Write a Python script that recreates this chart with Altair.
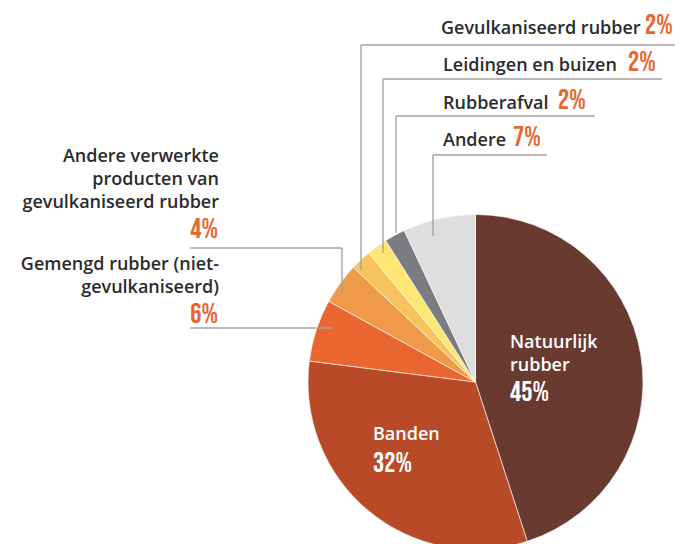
import altair as alt
import pandas as pd

# ---- data ----
categories = ["Natuurlijk rubber", "Banden", "Gemengd rubber (niet-gevulkaniseerd)",
              "Andere verwerkte producten van gevulkaniseerd rubber",
              "Gevulkaniseerd rubber", "Leidingen en buizen", "Rubberafval", "Andere"]
values = [45, 32, 6, 4, 2, 2, 2, 7]
colors = ["#693a2f", "#b94a27", "#e96630", "#ef9a48", "#f6c35c", "#fde672", "#7b7c80", "#dedede"]

OFF = 8  # page margin
CX, CY, R = 475.5 - OFF, 382 - OFF, 167.5

pie_df = pd.DataFrame({"category": categories, "value": values, "idx": range(len(values))})

pie = alt.Chart(pie_df).mark_arc(radius=R, stroke="white", strokeWidth=0.6).encode(
    theta=alt.Theta("value:Q", stack=True),
    color=alt.Color("category:N", scale=alt.Scale(domain=categories, range=colors), legend=None),
    order=alt.Order("idx:Q"),
    x=alt.value(CX), y=alt.value(CY),
)

# ---- leader lines (layout, page px) ----
segs = [
    (361, 45, 683, 45), (361, 45, 361, 270),
    (383, 79, 662, 79), (383, 79, 383, 253),
    (396, 116, 595, 116), (396, 116, 396, 233),
    (433, 155, 547, 155), (433, 155, 433, 236),
    (190, 248, 342, 248), (342, 248, 342, 293),
    (190, 328, 332, 328),
]
seg_df = pd.DataFrame([{"x1": a - OFF, "y1": b - OFF, "x2": c - OFF, "y2": d - OFF} for a, b, c, d in segs])
lines = alt.Chart(seg_df).mark_rule(color="#a3a3a3", strokeWidth=1.4).encode(
    x=alt.X("x1:Q", scale=None), x2="x2:Q",
    y=alt.Y("y1:Q", scale=None), y2="y2:Q",
)

# ---- label text ----
right_labels = ["Gevulkaniseerd rubber", "Leidingen en buizen", "Rubberafval", "Andere"]
right_label_x = [441, 443, 443, 443]
right_pcts = ["2%", "2%", "2%", "7%"]
right_y = [34, 71, 109, 146]
right_pct_x = [645, 628, 558, 513]

left_lines = ["Andere verwerkte", "producten van", "gevulkaniseerd rubber",
              "Gemengd rubber (niet-", "gevulkaniseerd)"]
left_y = [162, 185, 208, 270, 293]
left_pcts = ["4%", "6%"]
left_pct_y = [238, 323]

inner_lines = ["Natuurlijk", "rubber", "Banden"]
inner_x = [510, 510, 373]
inner_y = [348, 371, 440]
inner_pcts = ["45%", "32%"]
inner_pct_x = [510, 373]
inner_pct_y = [401, 472]

LABEL_FONT = "Open Sans"
PCT_FONT = "Bebas Neue"
DARK = "#2b2b2b"
ORANGE = "#e8652f"
LSIZE = 18


def text_layer(txts, xs, ys, align, font, size, color, weight):
    df = pd.DataFrame({"t": txts, "x": [v - OFF for v in xs], "y": [v - OFF for v in ys]})
    return alt.Chart(df).mark_text(
        align=align, baseline="alphabetic", font=font, fontSize=size,
        color=color, fontWeight=weight,
    ).encode(x=alt.X("x:Q", scale=None), y=alt.Y("y:Q", scale=None), text="t:N")


layers = [
    pie, lines,
    text_layer(right_labels, right_label_x, right_y, "left", LABEL_FONT, LSIZE, DARK, 600),
    text_layer(right_pcts, right_pct_x, right_y, "left", PCT_FONT, 28, ORANGE, "normal"),
    text_layer(left_lines, [219] * 5, left_y, "right", LABEL_FONT, LSIZE, DARK, 600),
    text_layer(left_pcts, [218] * 2, left_pct_y, "right", PCT_FONT, 28, ORANGE, "normal"),
    text_layer(inner_lines, inner_x, inner_y, "left", LABEL_FONT, LSIZE, "white", 600),
    text_layer(inner_pcts, inner_pct_x, inner_pct_y, "left", PCT_FONT, 28, "white", "normal"),
]

chart = alt.layer(*layers).properties(
    width=667, height=536, padding=0, autosize=alt.AutoSizeParams(type="none")
).configure_view(stroke=None)

chart.save("out.html", embed_options={"renderer": "svg", "actions": False})
